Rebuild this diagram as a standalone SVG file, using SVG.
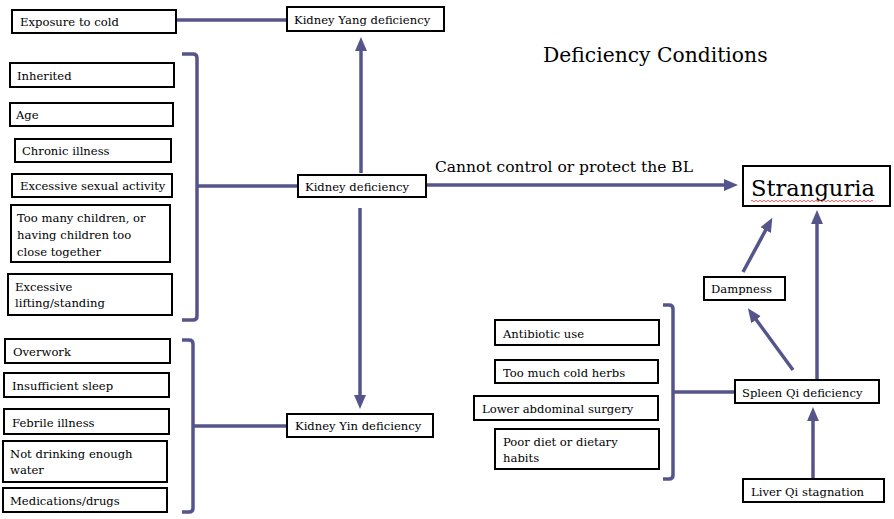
<svg xmlns="http://www.w3.org/2000/svg" width="894" height="519" viewBox="0 0 894 519">
<style>
.box{fill:#fff;stroke:#000;stroke-width:2}
.t{font-family:"DejaVu Serif","Liberation Serif",serif;font-size:11.6px;fill:#000}
.ln{fill:none;stroke:#55558b;stroke-width:3.5;stroke-linejoin:round}
</style>
<defs>
<marker id="ah" markerWidth="4" markerHeight="4" refX="2" refY="2" orient="auto" markerUnits="strokeWidth" viewBox="0 0 4 4">
<path d="M0,0.3 L4,2 L0,3.7 Z" fill="#55558b"/>
</marker>
</defs>
<rect width="894" height="519" fill="#fff"/>
<text x="543" y="62" class="t" style="font-size:20.3px">Deficiency Conditions</text>
<text x="435" y="172" class="t" style="font-size:15.5px">Cannot control or protect the BL</text>

<g id="connectors">
<path class="ln" d="M176,20 H287"/>
<path class="ln" d="M361,173 V44" marker-end="url(#ah)"/>
<path class="ln" d="M182,54 H193 Q197,54 197,58 V316 Q197,320 193,320 H182"/>
<path class="ln" d="M197,186 H298"/>
<path class="ln" d="M360,208 V402" marker-end="url(#ah)"/>
<path class="ln" d="M182,340 H189 Q193,340 193,344 V508 Q193,512 189,512 H182"/>
<path class="ln" d="M193,426 H287"/>
<path class="ln" d="M426,185 H731" marker-end="url(#ah)"/>
<path class="ln" d="M743,272 L769,224" marker-end="url(#ah)"/>
<path class="ln" d="M793,370 L752,314" marker-end="url(#ah)"/>
<path class="ln" d="M817,380 V217" marker-end="url(#ah)"/>
<path class="ln" d="M813,479 V414" marker-end="url(#ah)"/>
<path class="ln" d="M663,305 H669 Q673,305 673,309 V475 Q673,479 669,479 H663"/>
<path class="ln" d="M673,392 H735"/>
</g>

<g id="exposure"><rect class="box" x="12" y="10" width="164" height="23"/><text class="t" x="20" y="26">Exposure to cold</text></g>
<g id="yang"><rect class="box" x="287" y="7" width="157" height="24"/><text class="t" x="294" y="24">Kidney Yang deficiency</text></g>
<g id="inherited"><rect class="box" x="10" y="63" width="164" height="24"/><text class="t" x="17" y="80">Inherited</text></g>
<g id="age"><rect class="box" x="10" y="103" width="163" height="23"/><text class="t" x="16" y="119">Age</text></g>
<g id="chronic"><rect class="box" x="15" y="139" width="156" height="23"/><text class="t" x="22" y="155">Chronic illness</text></g>
<g id="sexual"><rect class="box" x="12" y="174" width="160" height="23"/><text class="t" x="20" y="190">Excessive sexual activity</text></g>
<g id="children"><rect class="box" x="11" y="205" width="159" height="57"/><text class="t" x="17" y="222">Too many children, or</text><text class="t" x="17" y="239">having children too</text><text class="t" x="17" y="256">close together</text></g>
<g id="lifting"><rect class="box" x="8" y="274" width="164" height="41"/><text class="t" x="15" y="291">Excessive</text><text class="t" x="15" y="307">lifting/standing</text></g>
<g id="kidney"><rect class="box" x="298" y="175" width="128" height="22"/><text class="t" x="305" y="191">Kidney deficiency</text></g>
<g id="overwork"><rect class="box" x="5" y="339" width="165" height="24"/><text class="t" x="13" y="356">Overwork</text></g>
<g id="sleep"><rect class="box" x="4" y="373" width="165" height="24"/><text class="t" x="12" y="390">Insufficient sleep</text></g>
<g id="febrile"><rect class="box" x="4" y="409" width="165" height="25"/><text class="t" x="12" y="427">Febrile illness</text></g>
<g id="water"><rect class="box" x="3" y="441" width="164" height="41"/><text class="t" x="10" y="458">Not drinking enough</text><text class="t" x="10" y="474">water</text></g>
<g id="meds"><rect class="box" x="3" y="488" width="164" height="24"/><text class="t" x="10" y="505">Medications/drugs</text></g>
<g id="yin"><rect class="box" x="287" y="414" width="146" height="23"/><text class="t" x="295" y="430">Kidney Yin deficiency</text></g>
<g id="stranguria"><rect class="box" x="743" y="166" width="147" height="40"/><text x="751" y="196" class="t" style="font-size:22.6px">Stranguria</text><path d="M751,201 q1,-1.5 2,0 t2,0 t2,0 t2,0 t2,0 t2,0 t2,0 t2,0 t2,0 t2,0 t2,0 t2,0 t2,0 t2,0 t2,0 t2,0 t2,0 t2,0 t2,0 t2,0 t2,0 t2,0 t2,0 t2,0 t2,0 t2,0 t2,0 t2,0 t2,0 t2,0 t2,0 t2,0 t2,0 t2,0 t2,0 t2,0 t2,0 t2,0 t2,0 t2,0 t2,0 t2,0 t2,0 t2,0 t2,0 t2,0 t2,0 t2,0 t2,0 t2,0 t2,0 t2,0 t2,0 t2,0 t2,0 t2,0 t2,0 t2,0 t2,0 t2,0 t2,0" fill="none" stroke="#e33" stroke-width="0.8"/></g>
<g id="dampness"><rect class="box" x="704" y="277" width="81" height="23"/><text class="t" x="711" y="293">Dampness</text></g>
<g id="antibiotic"><rect class="box" x="495" y="320" width="164" height="25"/><text class="t" x="503" y="338">Antibiotic use</text></g>
<g id="coldherbs"><rect class="box" x="495" y="360" width="163" height="23"/><text class="t" x="503" y="377">Too much cold herbs</text></g>
<g id="surgery"><rect class="box" x="474" y="396" width="184" height="24"/><text class="t" x="482" y="413">Lower abdominal surgery</text></g>
<g id="diet"><rect class="box" x="495" y="429" width="164" height="40"/><text class="t" x="503" y="446">Poor diet or dietary</text><text class="t" x="503" y="462">habits</text></g>
<g id="spleen"><rect class="box" x="735" y="380" width="144" height="23"/><text class="t" x="742" y="397">Spleen Qi deficiency</text></g>
<g id="liver"><rect class="box" x="743" y="479" width="141" height="23"/><text class="t" x="751" y="496">Liver Qi stagnation</text></g>
</svg>
